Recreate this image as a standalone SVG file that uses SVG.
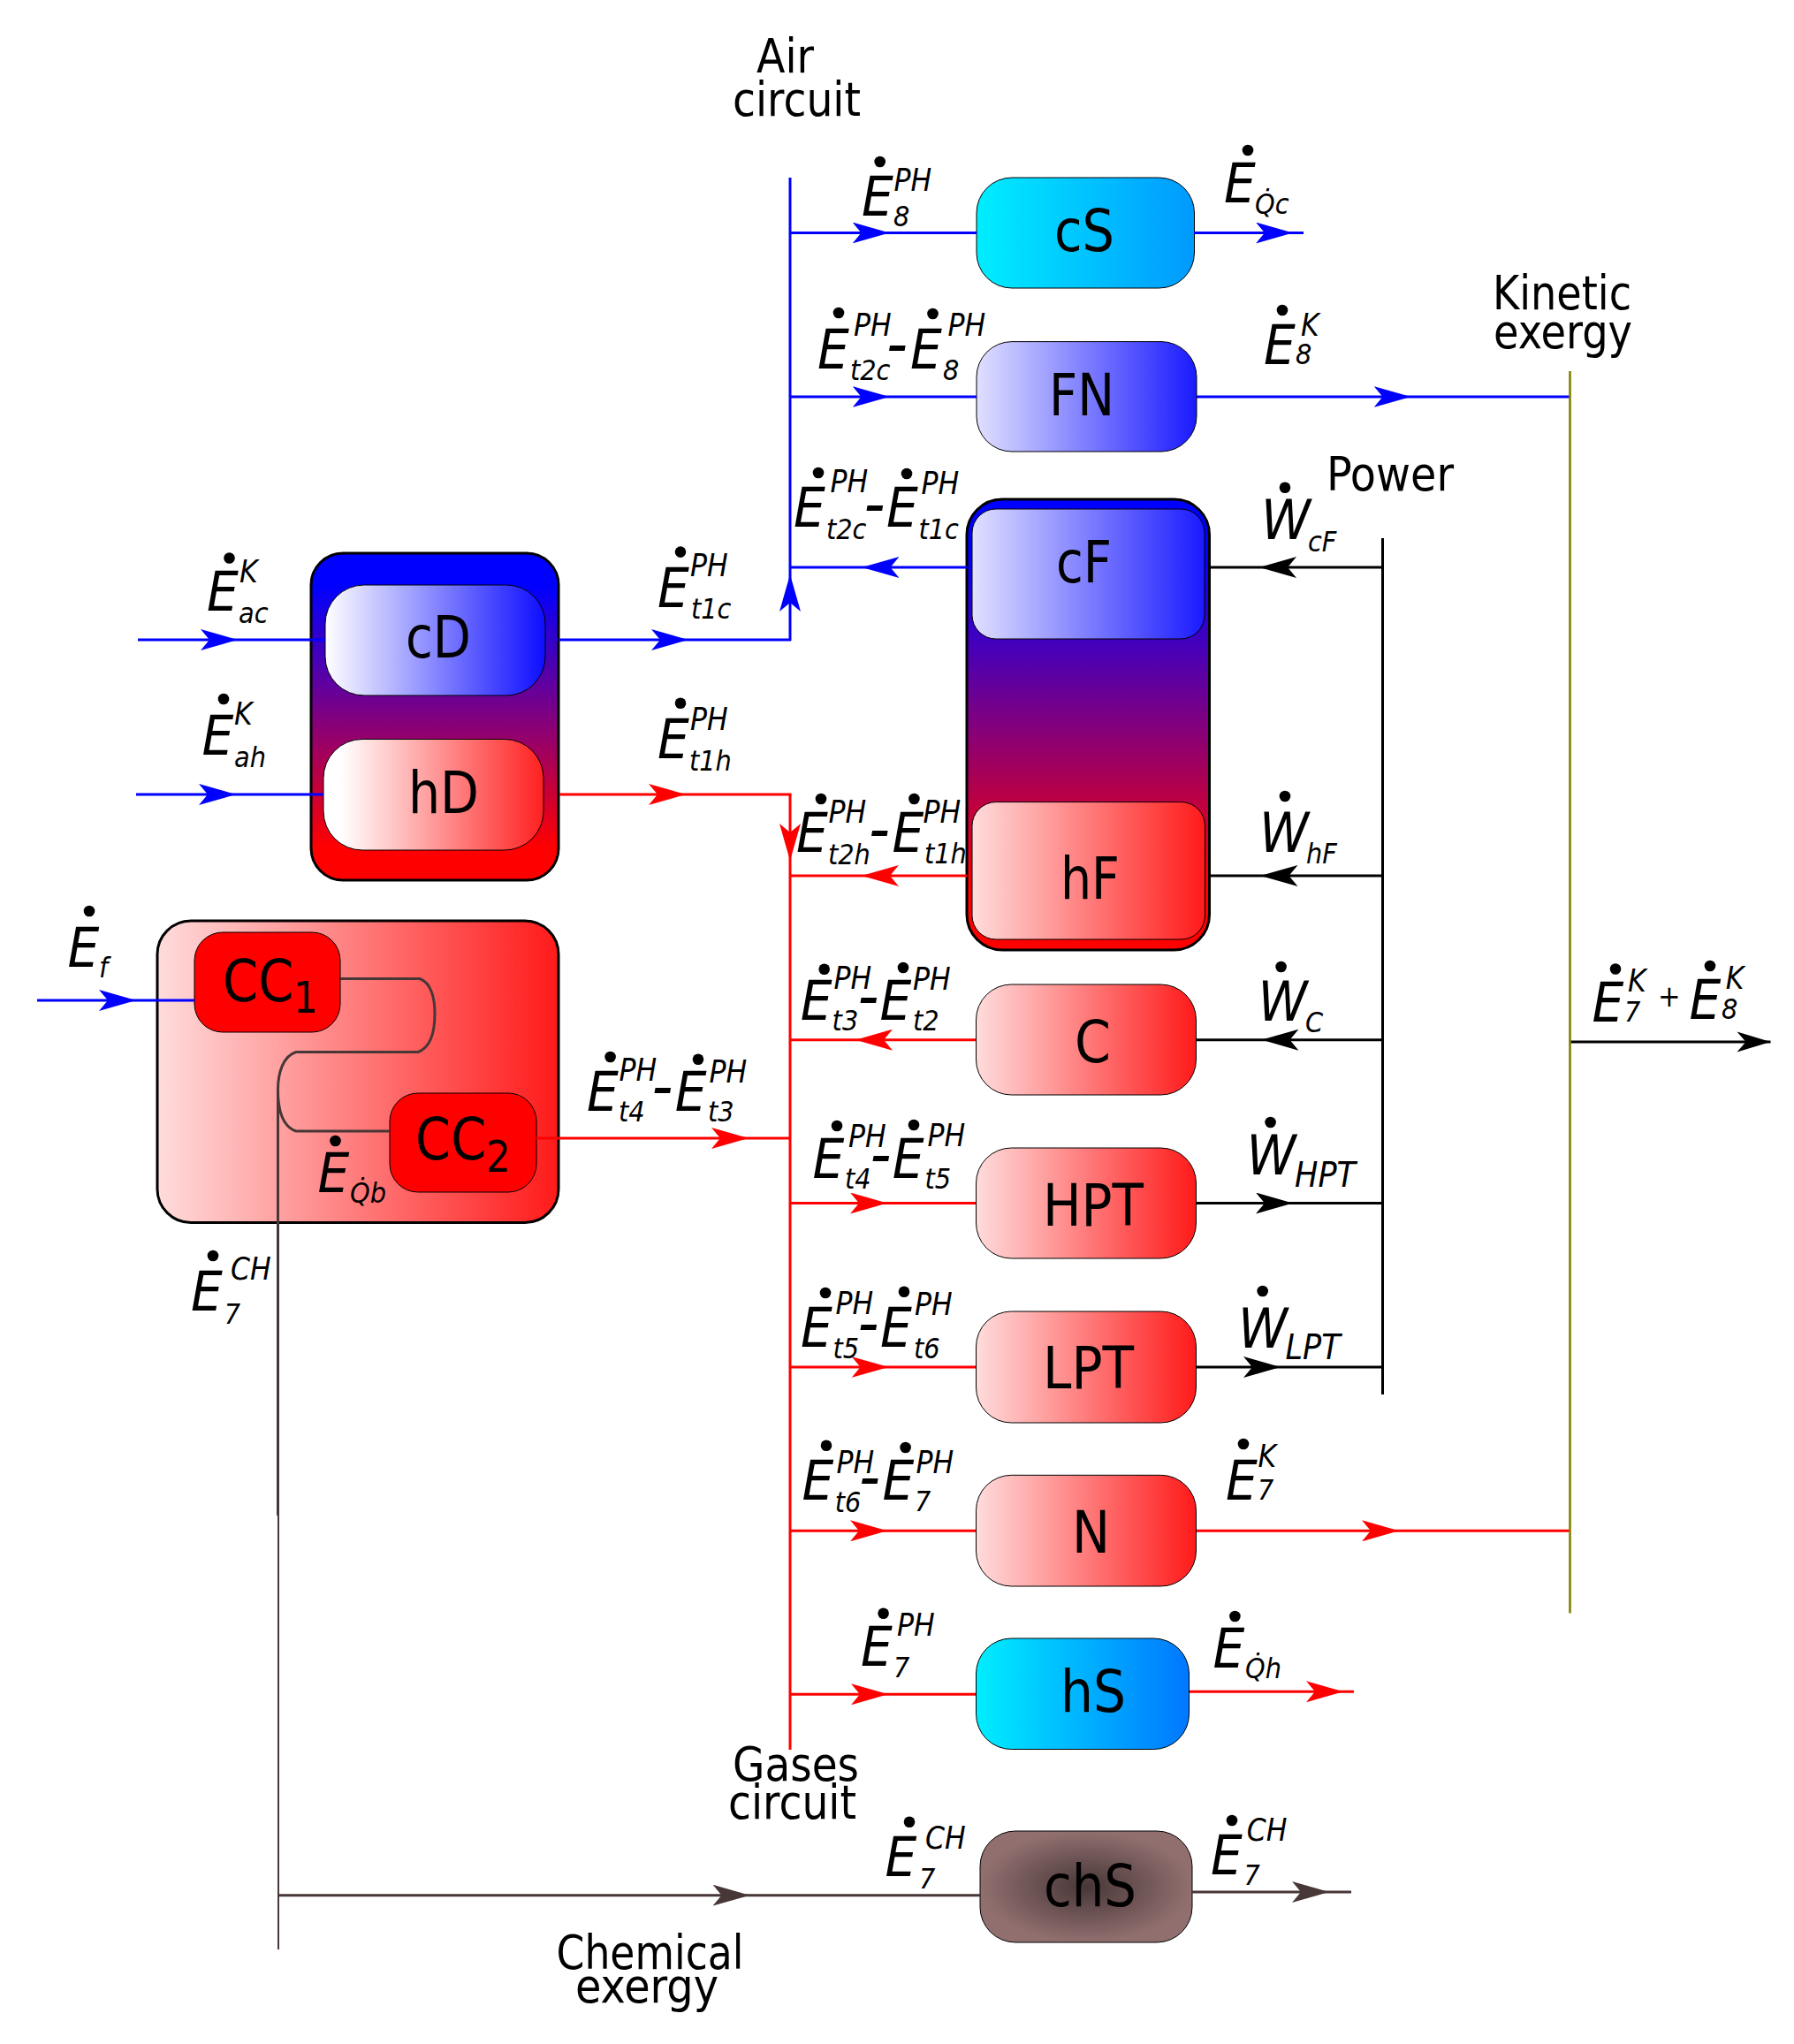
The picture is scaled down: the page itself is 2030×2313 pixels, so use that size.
<svg xmlns="http://www.w3.org/2000/svg" width="2030" height="2313" viewBox="0 0 2030 2313">
<style>
text{font-family:"DejaVu Sans","Liberation Sans",sans-serif;font-stretch:condensed;fill:#000}
.n{font-size:66px}
.c{font-size:54px}
.e{font-size:63px;font-style:italic}
.s{font-size:32px}
.u{font-size:35px}
.w{font-size:39px}
.m{font-size:74px}
.ln{fill:none;stroke-width:3}
.b{stroke:#00f;marker-mid:url(#mb)}
.r{stroke:#f00;marker-mid:url(#mr)}
.k{stroke:#000;marker-mid:url(#mk)}
.h{stroke:#483737;marker-mid:url(#mh)}
.o{stroke:#808000;stroke-width:2.6}
.box{stroke:#000;stroke-width:1}
.out{stroke:#000;stroke-width:3}
circle{fill:#000}
</style>
<defs>
<linearGradient id="gV" x1="0" y1="0" x2="0" y2="1"><stop offset=".1" stop-color="#00f"/><stop offset=".9" stop-color="#f00"/></linearGradient>
<linearGradient id="gV2" x1="0" y1="0" x2="0" y2="1"><stop offset=".125" stop-color="#00f"/><stop offset=".863" stop-color="#f00"/></linearGradient>
<linearGradient id="gBw"><stop offset="0" stop-color="#fff"/><stop offset="1" stop-color="#0d0dff"/></linearGradient>
<linearGradient id="gRw"><stop offset=".08" stop-color="#fff"/><stop offset="1" stop-color="#ff2020"/></linearGradient>
<linearGradient id="gB"><stop offset="0" stop-color="#e0e0ff"/><stop offset="1" stop-color="#1a1aff"/></linearGradient>
<linearGradient id="gR"><stop offset="0" stop-color="#ffdcdc"/><stop offset="1" stop-color="#ff1a1a"/></linearGradient>
<linearGradient id="gC1"><stop offset="0" stop-color="#00eeff"/><stop offset="1" stop-color="#0099ff"/></linearGradient>
<linearGradient id="gC2"><stop offset="0" stop-color="#00eeff"/><stop offset="1" stop-color="#0077ff"/></linearGradient>
<radialGradient id="gCh" cx=".5" cy=".5" r=".5"><stop offset="0" stop-color="#483737"/><stop offset="1" stop-color="#916f6f"/></radialGradient>
<marker id="mb" markerUnits="userSpaceOnUse" markerWidth="42" markerHeight="24" viewBox="0 0 42 24" refX="36" refY="12" orient="auto"><path d="M0 0L42 12L0 24L10 12Z" fill="#00f"/></marker>
<marker id="mr" markerUnits="userSpaceOnUse" markerWidth="42" markerHeight="24" viewBox="0 0 42 24" refX="36" refY="12" orient="auto"><path d="M0 0L42 12L0 24L10 12Z" fill="#f00"/></marker>
<marker id="mk" markerUnits="userSpaceOnUse" markerWidth="42" markerHeight="24" viewBox="0 0 42 24" refX="36" refY="12" orient="auto"><path d="M0 0L42 12L0 24L10 12Z" fill="#000"/></marker>
<marker id="mh" markerUnits="userSpaceOnUse" markerWidth="42" markerHeight="24" viewBox="0 0 42 24" refX="36" refY="12" orient="auto"><path d="M0 0L42 12L0 24L10 12Z" fill="#483737"/></marker>
</defs>
<rect width="2030" height="2313" fill="#fff"/>

<g id="Dhousing"><rect class="out" x="352" y="626" width="280" height="370" rx="36" fill="url(#gV)"/></g>
<g id="cD"><rect class="box" x="368" y="662" width="249" height="125" rx="44" fill="url(#gBw)"/><text class="n" x="459" y="743.500" textLength="74" lengthAdjust="spacingAndGlyphs">cD</text></g>
<g id="hD"><rect class="box" x="366" y="836.500" width="249" height="125.500" rx="44" fill="url(#gRw)"/><text class="n" x="462" y="920" textLength="80" lengthAdjust="spacingAndGlyphs">hD</text></g>
<g id="combustor"><rect class="out" x="178" y="1042" width="454" height="341.500" rx="38" fill="url(#gR)"/></g>
<g id="CC1"><rect class="box" x="220" y="1055" width="165" height="113" rx="32" fill="#f00" stroke-width=".6"/><text class="n" x="252" y="1132.700" font-size="63" textLength="108" lengthAdjust="spacingAndGlyphs">CC<tspan font-size="50" dy="13">1</tspan></text></g>
<g id="CC2"><rect class="box" x="441" y="1237" width="166" height="112" rx="32" fill="#f00" stroke-width=".6"/><text class="n" x="470" y="1312" font-size="63" textLength="108" lengthAdjust="spacingAndGlyphs">CC<tspan font-size="50" dy="14">2</tspan></text></g>
<g id="cS"><rect class="box" x="1105" y="201" width="246.500" height="125" rx="40" fill="url(#gC1)"/><text class="n" x="1193" y="284" textLength="68" lengthAdjust="spacingAndGlyphs">cS</text></g>
<g id="FN"><rect class="box" x="1105" y="386.600" width="249" height="124.400" rx="40" fill="url(#gB)"/><text class="n" x="1187" y="469.600" textLength="74" lengthAdjust="spacingAndGlyphs">FN</text></g>
<g id="Fhousing"><rect class="out" x="1094" y="565" width="274.500" height="510" rx="40" fill="url(#gV2)"/></g>
<g id="cF"><rect class="box" x="1100" y="576" width="263" height="147" rx="27" fill="url(#gB)"/><text class="n" x="1195" y="658.700" textLength="63" lengthAdjust="spacingAndGlyphs">cF</text></g>
<g id="hF"><rect class="box" x="1100" y="907.600" width="263.500" height="155.400" rx="27" fill="url(#gR)"/><text class="n" x="1200" y="1016.600" textLength="67" lengthAdjust="spacingAndGlyphs">hF</text></g>
<g id="C"><rect class="box" x="1104.500" y="1114" width="249" height="125" rx="40" fill="url(#gR)"/><text class="n" x="1216" y="1201.700" textLength="41" lengthAdjust="spacingAndGlyphs">C</text></g>
<g id="HPT"><rect class="box" x="1104.500" y="1299" width="249" height="125" rx="40" fill="url(#gR)"/><text class="n" x="1180" y="1386.700" textLength="114" lengthAdjust="spacingAndGlyphs">HPT</text></g>
<g id="LPT"><rect class="box" x="1104.500" y="1484" width="249" height="126" rx="40" fill="url(#gR)"/><text class="n" x="1180" y="1571" textLength="103" lengthAdjust="spacingAndGlyphs">LPT</text></g>
<g id="N"><rect class="box" x="1104.500" y="1669.300" width="249" height="125.700" rx="40" fill="url(#gR)"/><text class="n" x="1213" y="1756.700" textLength="43" lengthAdjust="spacingAndGlyphs">N</text></g>
<g id="hS"><rect class="box" x="1104.500" y="1854" width="241" height="125.500" rx="40" fill="url(#gC2)"/><text class="n" x="1200" y="1937.300" textLength="74" lengthAdjust="spacingAndGlyphs">hS</text></g>
<g id="chS"><rect class="box" x="1109" y="2072" width="240" height="126" rx="40" fill="url(#gCh)"/><text class="n" x="1181" y="2157" textLength="105" lengthAdjust="spacingAndGlyphs">chS</text></g>

<g id="connectors">
<path class="ln b" d="M156 724L263 724L368 724"/>
<path class="ln b" d="M154 899L261 899L366 899"/>
<path class="ln b" d="M42 1132L148 1132L220 1132"/>
<path class="ln b" d="M632 724L773 724L895 724"/>
<path class="ln b" d="M894 725L894 656L894 201"/>
<path class="ln b" d="M894 263.500L1000.500 263.500L1105 263.500"/>
<path class="ln b" d="M1351 263.500L1457 263.500L1475 263.500"/>
<path class="ln b" d="M894 449L1000.500 449L1105 449"/>
<path class="ln b" d="M1354 449L1590.500 449L1776 449"/>
<path class="ln b" d="M1094 642L981.500 642L894 642"/>
<path class="ln r" d="M633 899L770 899L895.500 899"/>
<path class="ln r" d="M894 899L894 968L894 1980"/>
<path class="ln r" d="M1094 991L981 991L894 991"/>
<path class="ln r" d="M1104 1176.700L974 1176.700L894 1176.700"/>
<path class="ln r" d="M607 1288L841 1288L894 1288"/>
<path class="ln r" d="M894 1361.500L998 1361.500L1104 1361.500"/>
<path class="ln r" d="M894 1547L999.500 1547L1104 1547"/>
<path class="ln r" d="M894 1732.300L998 1732.300L1104 1732.300"/>
<path class="ln r" d="M1354 1732.300L1577 1732.300L1776 1732.300"/>
<path class="ln r" d="M894 1917.300L999 1917.300L1104 1917.300"/>
<path class="ln r" d="M1346 1914.300L1514 1914.300L1532 1914.300"/>
<path class="ln k" d="M1564.500 642L1431 642L1367 642"/>
<path class="ln k" d="M1564.500 991L1432.500 991L1367 991"/>
<path class="ln k" d="M1564.500 1176.700L1433.500 1176.700L1353 1176.700"/>
<path class="ln k" d="M1353 1361.500L1457 1361.500L1564.500 1361.500"/>
<path class="ln k" d="M1353 1547L1443 1547L1564.500 1547"/>
<path class="ln k" d="M1564.500 609L1564.500 1578"/>
<path class="ln k" d="M1777 1179L2003.500 1179"/>
<path d="M1965.500 1167.500L2003.500 1179L1965.500 1190.500L1975.500 1179Z" fill="#000"/>
<path class="ln o" d="M1776.500 420L1776.500 1825.500"/>
<path class="ln" stroke="#483737" stroke-width="3" d="M385 1107.500H475C488 1112 492 1130 492 1147C492 1165 488 1185 473 1190.500H335C320 1195 314.500 1215 314.500 1233C314.500 1258 320 1275 335 1280H441"/>
<path class="ln" stroke="#483737" d="M314.500 1233V1715"/>
<path class="ln" stroke="#483737" style="stroke-width:2" d="M315 1715V2206"/>
<path class="ln h" d="M315 2144.700L842.500 2144.700L1109 2144.700"/>
<path class="ln h" d="M1349 2141L1498 2141L1529 2141"/>
</g>

<g id="captions">
<text class="c" x="856" y="81.700" textLength="65" lengthAdjust="spacingAndGlyphs">Air</text>
<text class="c" x="829" y="131" textLength="145" lengthAdjust="spacingAndGlyphs">circuit</text>
<text class="c" x="1689" y="350" textLength="157" lengthAdjust="spacingAndGlyphs">Kinetic</text>
<text class="c" x="1690" y="394" textLength="157" lengthAdjust="spacingAndGlyphs">exergy</text>
<text class="c" x="1501" y="555.300" textLength="144" lengthAdjust="spacingAndGlyphs">Power</text>
<text class="c" x="829" y="2015" textLength="143" lengthAdjust="spacingAndGlyphs">Gases</text>
<text class="c" x="824" y="2058" textLength="145" lengthAdjust="spacingAndGlyphs">circuit</text>
<text class="c" x="629.500" y="2228" textLength="212" lengthAdjust="spacingAndGlyphs">Chemical</text>
<text class="c" x="651" y="2266" textLength="162" lengthAdjust="spacingAndGlyphs">exergy</text>
</g>

<g id="labels">
<circle cx="259.500" cy="631.500" r="6.300"/><text class="e" x="234" y="690.600">E<tspan class="u" x="271" y="659">K</tspan><tspan class="s" x="270" y="705">ac</tspan></text>
<circle cx="253" cy="791" r="6.300"/><text class="e" x="228.500" y="854">E<tspan class="u" x="265" y="820">K</tspan><tspan class="s" x="265" y="867.500">ah</tspan></text>
<circle cx="770" cy="624.600" r="6.300"/><text class="e" x="744" y="686.600">E<tspan class="u" x="781" y="652">PH</tspan><tspan class="s" x="782" y="700.400">t1c</tspan></text>
<circle cx="770" cy="795.700" r="6.300"/><text class="e" x="744" y="858">E<tspan class="u" x="781" y="825.500">PH</tspan><tspan class="s" x="780" y="871.500">t1h</tspan></text>
<circle cx="101" cy="1031" r="6.300"/><text class="e" x="76.500" y="1093.600">E<tspan class="s" x="112" y="1105.700">f</tspan></text>
<circle cx="690.600" cy="1196" r="6.300"/><circle cx="790" cy="1198.700" r="6.300"/><text class="e" x="664" y="1257">E<tspan class="u" x="700.500" y="1222.800">PH</tspan><tspan class="s" x="700" y="1268.700">t4</tspan><tspan class="m" x="737.500" y="1255">-</tspan><tspan x="763.800" y="1257">E</tspan><tspan class="u" x="802.500" y="1225">PH</tspan><tspan class="s" x="801" y="1268.700">t3</tspan></text>
<circle cx="379.500" cy="1291" r="6.300"/><text class="e" x="359.600" y="1349">E<tspan class="s" x="396" y="1360.600">Q̇b</tspan></text>
<circle cx="241" cy="1421" r="6.300"/><text class="e" x="216" y="1483">E<tspan class="u" x="261" y="1448">CH</tspan><tspan class="s" x="253.700" y="1498">7</tspan></text>
<circle cx="995.700" cy="183" r="6.300"/><text class="e" x="975" y="244">E<tspan class="u" x="1011.500" y="215.600">PH</tspan><tspan class="s" x="1011" y="256">8</tspan></text>
<circle cx="1412" cy="170" r="6.300"/><text class="e" x="1385" y="228.600">E<tspan class="s" x="1420" y="241.500">Q̇c</tspan></text>
<circle cx="949" cy="354" r="6.300"/><circle cx="1055.500" cy="355" r="6.300"/><text class="e" x="925" y="417">E<tspan class="u" x="966" y="380">PH</tspan><tspan class="s" x="962" y="430">t2c</tspan><tspan class="m" x="1003" y="415">-</tspan><tspan x="1030" y="417">E</tspan><tspan class="u" x="1072.500" y="380">PH</tspan><tspan class="s" x="1067" y="430">8</tspan></text>
<circle cx="926" cy="535" r="6.300"/><circle cx="1026" cy="536" r="6.300"/><text class="e" x="898" y="596">E<tspan class="u" x="939.500" y="557">PH</tspan><tspan class="s" x="935" y="610">t2c</tspan><tspan class="m" x="977.500" y="596">-</tspan><tspan x="1003" y="596">E</tspan><tspan class="u" x="1042.500" y="559">PH</tspan><tspan class="s" x="1039.500" y="610">t1c</tspan></text>
<circle cx="1451" cy="351" r="6.300"/><text class="e" x="1430" y="412">E<tspan class="u" x="1472" y="379.500">K</tspan><tspan class="s" x="1466" y="411.600">8</tspan></text>
<circle cx="1454" cy="551.700" r="6.300"/><text class="e" x="1427" y="610">W<tspan class="s" x="1480" y="623.600">cF</tspan></text>
<circle cx="1454" cy="901" r="6.300"/><text class="e" x="1425" y="964">W<tspan class="s" x="1478" y="976.500">hF</tspan></text>
<circle cx="929" cy="904" r="6.300"/><circle cx="1034.400" cy="904" r="6.300"/><text class="e" x="901" y="964">E<tspan class="u" x="937.500" y="931">PH</tspan><tspan class="s" x="937" y="978">t2h</tspan><tspan class="m" x="983" y="964">-</tspan><tspan x="1009.500" y="964">E</tspan><tspan class="u" x="1044.500" y="931">PH</tspan><tspan class="s" x="1046" y="976.500">t1h</tspan></text>
<circle cx="932.700" cy="1096.700" r="6.300"/><circle cx="1022" cy="1095" r="6.300"/><text class="e" x="905.700" y="1154">E<tspan class="u" x="943.500" y="1119">PH</tspan><tspan class="s" x="941.600" y="1165.700">t3</tspan><tspan class="m" x="970.500" y="1153">-</tspan><tspan x="995.400" y="1154">E</tspan><tspan class="u" x="1033" y="1120">PH</tspan><tspan class="s" x="1033" y="1165.700">t2</tspan></text>
<circle cx="1449.600" cy="1094" r="6.300"/><text class="e" x="1423.500" y="1155">W<tspan class="s" x="1477" y="1167.700">C</tspan></text>
<circle cx="947" cy="1274" r="6.300"/><circle cx="1034" cy="1273" r="6.300"/><text class="e" x="919.500" y="1332.700">E<tspan class="u" x="960" y="1298">PH</tspan><tspan class="s" x="956" y="1345">t4</tspan><tspan class="m" x="984.500" y="1332">-</tspan><tspan x="1009.700" y="1332.700">E</tspan><tspan class="u" x="1049.500" y="1296.700">PH</tspan><tspan class="s" x="1046.500" y="1345">t5</tspan></text>
<circle cx="1437.600" cy="1270" r="6.300"/><text class="e" x="1410.500" y="1329">W<tspan class="w" x="1465" y="1342.700">HPT</tspan></text>
<circle cx="934" cy="1463" r="6.300"/><circle cx="1023" cy="1461.700" r="6.300"/><text class="e" x="906" y="1524">E<tspan class="u" x="945.500" y="1486.700">PH</tspan><tspan class="s" x="942.500" y="1537">t5</tspan><tspan class="m" x="970.500" y="1523">-</tspan><tspan x="996" y="1524">E</tspan><tspan class="u" x="1035" y="1488">PH</tspan><tspan class="s" x="1034" y="1537">t6</tspan></text>
<circle cx="1428.700" cy="1461" r="6.300"/><text class="e" x="1401" y="1525">W<tspan class="w" x="1454.500" y="1537.700">LPT</tspan></text>
<circle cx="935" cy="1635.700" r="6.300"/><circle cx="1024.600" cy="1638" r="6.300"/><text class="e" x="907.500" y="1696.700">E<tspan class="u" x="946.500" y="1666.700">PH</tspan><tspan class="s" x="944.700" y="1710.700">t6</tspan><tspan class="m" x="972" y="1697">-</tspan><tspan x="998.500" y="1696.700">E</tspan><tspan class="u" x="1036.500" y="1666.700">PH</tspan><tspan class="s" x="1035" y="1710">7</tspan></text>
<circle cx="1407" cy="1634" r="6.300"/><text class="e" x="1387" y="1696.700">E<tspan class="u" x="1423.500" y="1660">K</tspan><tspan class="s" x="1423" y="1696.700">7</tspan></text>
<circle cx="999.600" cy="1825.700" r="6.300"/><text class="e" x="974" y="1885">E<tspan class="u" x="1015" y="1850.700">PH</tspan><tspan class="s" x="1011" y="1898">7</tspan></text>
<circle cx="1397.400" cy="1829" r="6.300"/><text class="e" x="1372.600" y="1886.700">E<tspan class="s" x="1409" y="1899">Q̇h</tspan></text>
<circle cx="1029" cy="2061.700" r="6.300"/><text class="e" x="1001.500" y="2123">E<tspan class="u" x="1047" y="2091.700">CH</tspan><tspan class="s" x="1040" y="2137">7</tspan></text>
<circle cx="1394" cy="2060" r="6.300"/><text class="e" x="1370" y="2120.700">E<tspan class="u" x="1410.700" y="2082.700">CH</tspan><tspan class="s" x="1407.500" y="2133">7</tspan></text>
<circle cx="1828" cy="1096.500" r="6.300"/><circle cx="1935" cy="1093" r="6.300"/><text class="e" x="1801.600" y="1156">E<tspan class="u" x="1842" y="1122">K</tspan><tspan class="s" x="1838" y="1156">7</tspan><tspan x="1876" y="1139" font-size="34" font-style="normal">+</tspan><tspan x="1911.500" y="1153">E</tspan><tspan class="u" x="1952.700" y="1119">K</tspan><tspan class="s" x="1948" y="1153">8</tspan></text>
</g>
</svg>
